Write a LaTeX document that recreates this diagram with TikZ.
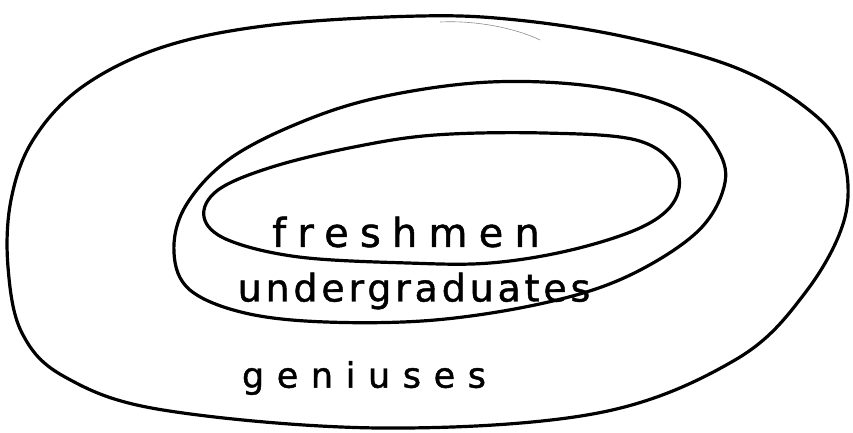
\documentclass[tikz,border=0pt]{standalone}
\usepackage{fontspec}
\setmainfont{DejaVu Sans}
\begin{document}
\begin{tikzpicture}[x=1pt,y=-1pt,
  oval/.style={draw=black,line width=3.2pt,line join=round},
  lbl/.style={inner sep=0pt,anchor=center,text=black}]
\useasboundingbox (0,0) rectangle (853,432);
% outer oval (geniuses)
\draw[oval] plot[smooth cycle,tension=0.6] coordinates{
 (517,20) (626,37) (734,67) (805,107) (841,150) (845,217) (805,293) (735,360)
 (598,413) (381,428) (163,410) (65,377) (22,333) (8,267) (11,200) (33,140)
 (82,87) (163,47) (272,25) (420,16)};
% middle oval (undergraduates)
\draw[oval] plot[smooth cycle,tension=0.6] coordinates{
 (490,82) (598,87) (680,110) (718,150) (724,187) (696,233) (626,277) (544,303)
 (435,320) (326,322) (245,313) (190,290) (174,253) (185,207) (228,160) (299,123)
 (381,97)};
% inner oval (freshmen)
\draw[oval] plot[smooth cycle,tension=0.6] coordinates{
 (544,133) (636,140) (675,167) (675,200) (642,227) (571,250) (490,263) (408,263)
 (299,257) (228,240) (204,217) (218,190) (272,167) (354,147) (435,135)};
% faint stray stroke near the top
\draw[black!45,line width=0.6pt] (440,22) .. controls (480,20) and (520,30) .. (540,40);
% labels
\node[lbl] (fr) at (406,232) {\fontsize{40}{44}\selectfont\addfontfeature{LetterSpace=28,FakeBold=1.2}freshmen};
\node[lbl] (ug) at (414,291) {\fontsize{38}{42}\selectfont\addfontfeature{LetterSpace=10,FakeBold=1.2}undergraduates};
\node[lbl] (ge) at (364,378) {\fontsize{35}{38}\selectfont\addfontfeature{LetterSpace=36,FakeBold=1.2}geniuses};
\end{tikzpicture}
\end{document}
